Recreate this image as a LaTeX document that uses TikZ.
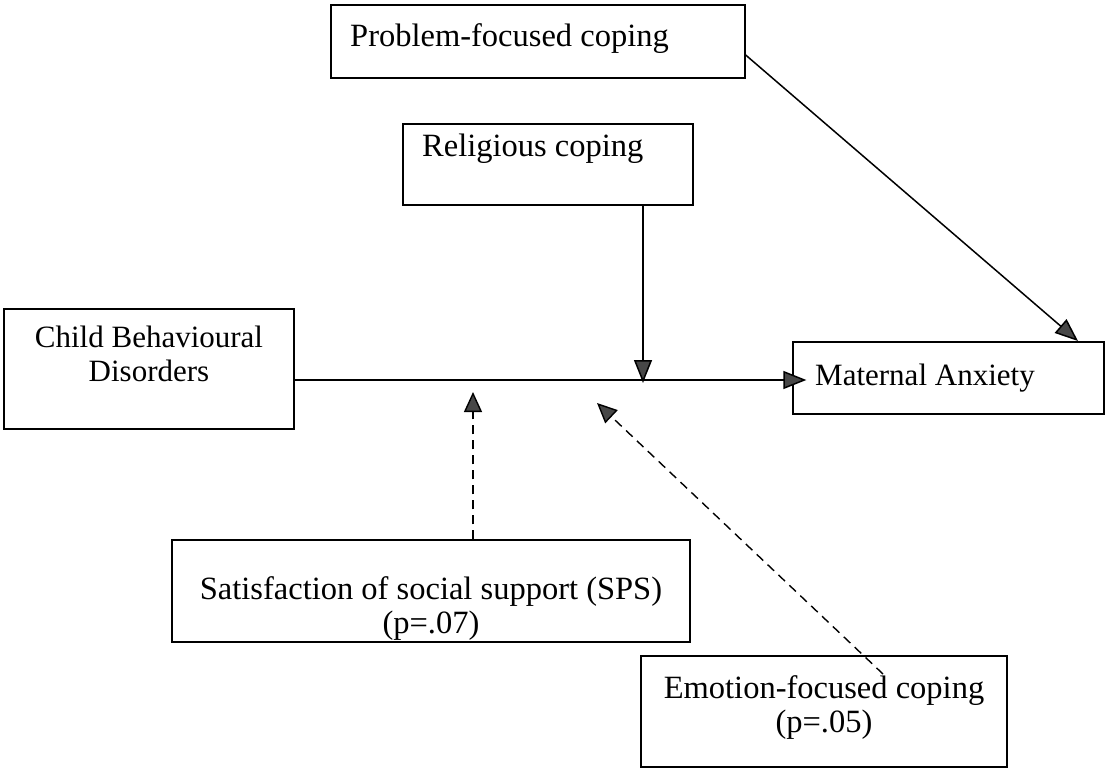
\documentclass[tikz,border=0pt]{standalone}
\usepackage{fontspec}
\setmainfont{Liberation Serif}
\usetikzlibrary{arrows.meta,calc}
\begin{document}
\begin{tikzpicture}[x=1pt,y=-1pt,
  box/.style={draw=black,line width=1.3pt,rectangle,inner sep=0pt},
  lbl/.style={inner sep=0pt,align=center,font=\fontsize{32.5}{34}\selectfont},
  lblsm/.style={inner sep=0pt,align=center,font=\fontsize{31}{34}\selectfont},
  link/.style={line width=1.5pt,-{Triangle[length=23pt,width=18pt,fill=black!72]}},
  dlink/.style={line width=1.4pt,dash pattern=on 9pt off 6pt,-{Triangle[length=20pt,width=18pt,fill=black!72]}},
]
\useasboundingbox (0,0) rectangle (1106,768);

% boxes
\node[box,minimum width=414pt,minimum height=73pt] (prob) at (538,41.5) {};
\node[box,minimum width=290pt,minimum height=81pt] (rel) at (548,164.5) {};
\node[box,minimum width=290pt,minimum height=120pt] (child) at (149,369) {};
\node[box,minimum width=311pt,minimum height=72pt] (mat) at (948.5,378) {};
\node[box,minimum width=518pt,minimum height=102pt] (sps) at (431,591) {};
\node[box,minimum width=366pt,minimum height=111pt] (emo) at (824,711.5) {};

% labels
\node[lbl,anchor=base west] (probtxt) at (350,47) {Problem-focused coping};
\node[lbl,anchor=base west] (reltxt) at (422,156) {Religious coping};
\node[lblsm,anchor=north] (childtxt) at (149,326) {Child Behavioural\\Disorders};
\node[lblsm,anchor=base west] (mattxt) at (815,385) {Maternal Anxiety};
\node[lbl,anchor=north] (spstxt) at (431,576) {Satisfaction of social support (SPS)\\(p=.07)};
\node[lbl,anchor=north] (emotxt) at (824,675) {Emotion-focused coping\\(p=.05)};

% connector end points
\coordinate (mainy) at (0,380);
\coordinate (reltip) at (643,383);
\coordinate (probstart) at (745,55);
\coordinate (probtip) at (1078,341);
\coordinate (spstip) at (473,392);
\coordinate (emostart) at (883,674);
\coordinate (emotip) at (597,403);

% solid paths
\draw[link,shorten >=-14pt] (child.east |- mainy) -- (mat.west |- mainy);
\draw[link] (rel.south -| reltip) -- (reltip);
\draw[link] (prob.east |- probstart) -- (probtip);

% dashed paths
\draw[dlink] (sps.north -| spstip) -- (spstip);
\draw[dlink] (emostart) -- (emotip);
\end{tikzpicture}
\end{document}
